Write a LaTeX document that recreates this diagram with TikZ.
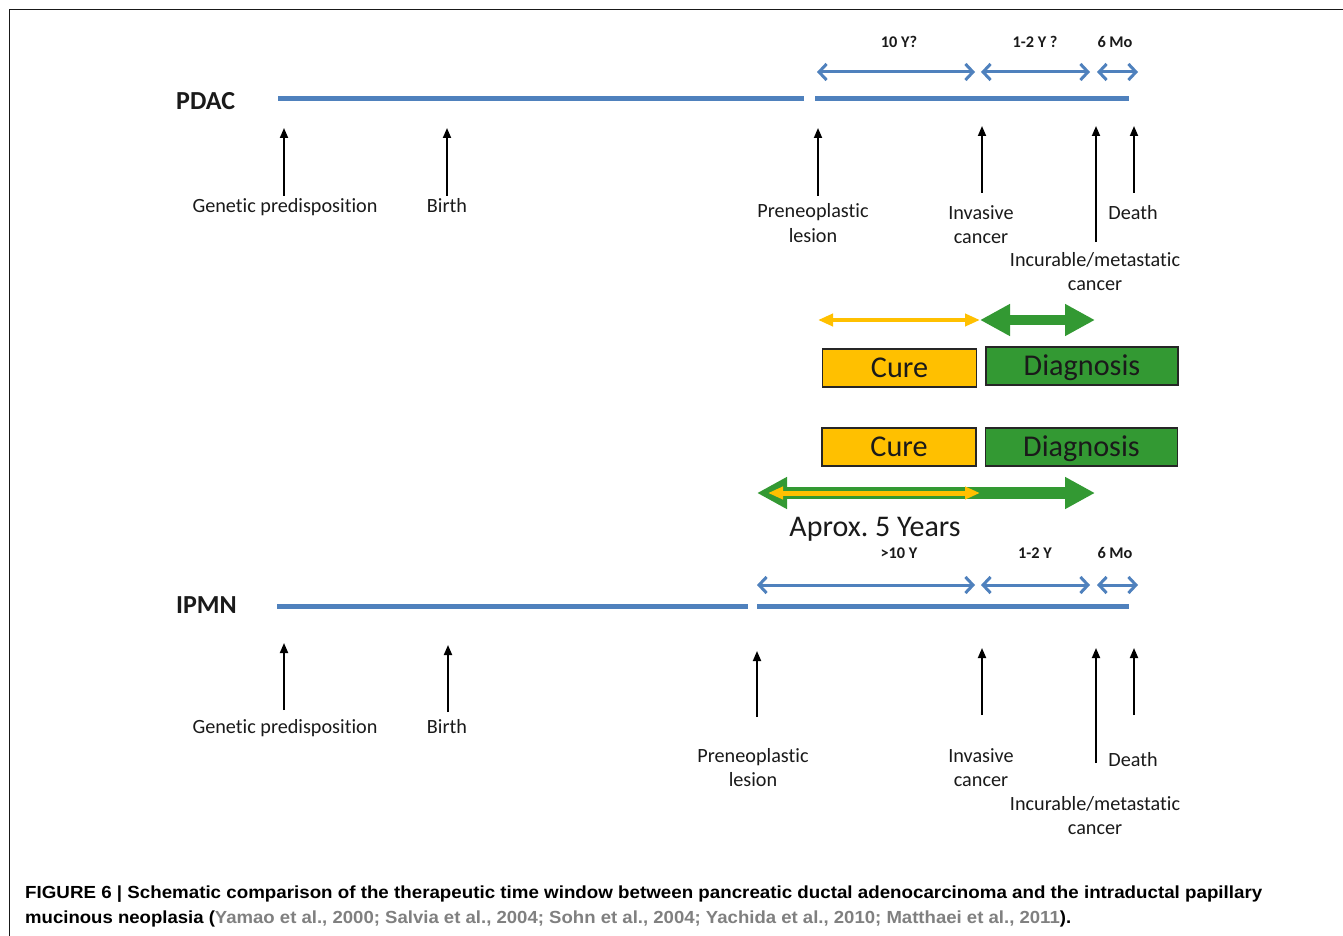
\documentclass[tikz,border=0pt]{standalone}
\usepackage{fontspec}
\usepackage{graphicx}
\setmainfont{Carlito}[Ligatures=NoCommon]
\newfontfamily\capfont{Liberation Sans}
\usetikzlibrary{arrows.meta}
\definecolor{tlblue}{HTML}{4F81BD}
\definecolor{cureyellow}{HTML}{FFC000}
\definecolor{diaggreen}{HTML}{339933}
\definecolor{citegray}{HTML}{808080}
\definecolor{ink}{HTML}{1A1A1A}
\frenchspacing
\begin{document}
\begin{tikzpicture}[x=1pt,y=-1pt,
  lbl/.style={font=\fontsize{20.2}{24}\selectfont, text=ink, anchor=base, inner sep=0pt},
  dur/.style={font=\bfseries\fontsize{16.3}{18}\selectfont, text=ink, anchor=base, inner sep=0pt},
  rowname/.style={font=\bfseries\fontsize{26}{28}\selectfont, text=ink, anchor=base west, inner sep=0pt},
  timeline/.style={draw=tlblue, line width=5pt},
  spanarrow/.style={draw=tlblue, line width=3pt, {Straight Barb[length=7.5pt,width=16pt]}-{Straight Barb[length=7.5pt,width=16pt]}},
  eventarrow/.style={draw=black, line width=1.8pt, -{Triangle[length=10pt,width=8pt]}},
  curearrow/.style={draw=cureyellow, line width=4pt, {Triangle[length=15pt,width=12pt]}-{Triangle[length=15pt,width=12pt]}},
  diagarrow/.style={draw=diaggreen, line width=10pt, {Triangle[length=30pt,width=30pt]}-{Triangle[length=30pt,width=30pt]}},
  boxbase/.style={draw=black!85, line width=1.5pt, inner sep=0pt, text height=19.5pt, text depth=0pt, font=\fontsize{30.2}{32}\selectfont, text=ink},
  curebox/.style={boxbase, fill=cureyellow, minimum width=154pt, minimum height=38pt},
  diagbox/.style={boxbase, fill=diaggreen, minimum width=192pt, minimum height=38pt},
  captext/.style={anchor=base west, inner sep=0pt, font=\capfont\bfseries\fontsize{17.5}{20}\selectfont}
]
\useasboundingbox (0,0) rectangle (1343,936);
\fill[white] (0,0) rectangle (1343,936);
% frame
\draw[line width=1pt, black!90] (9,936) -- (9,10) -- (1343,10);

% ================= PDAC =================
\node[rowname] (pdac) at (176,110) {PDAC};
\coordinate (pA1) at (278,99); \coordinate (pA2) at (804,99);
\coordinate (pB1) at (815,99); \coordinate (pB2) at (1129,99);
\draw[timeline] (pA1) -- (pA2);
\draw[timeline] (pB1) -- (pB2);

\coordinate (ps1a) at (817,72); \coordinate (ps1b) at (975,72);
\coordinate (ps2a) at (981,72); \coordinate (ps2b) at (1090,72);
\coordinate (ps3a) at (1097,72); \coordinate (ps3b) at (1138,72);
\draw[spanarrow] (ps1a) -- (ps1b);
\draw[spanarrow] (ps2a) -- (ps2b);
\draw[spanarrow] (ps3a) -- (ps3b);
\node[dur] (pd1) at (899,48) {10 Y?};
\node[dur] (pd2) at (1035,48) {1-2 Y ?};
\node[dur] (pd3) at (1115,48) {6 Mo};

\coordinate (pe1b) at (284,196); \coordinate (pe1t) at (284,128);
\coordinate (pe2b) at (447,196); \coordinate (pe2t) at (447,128);
\coordinate (pe3b) at (818,196); \coordinate (pe3t) at (818,128);
\coordinate (pe4b) at (982,193); \coordinate (pe4t) at (982,126);
\coordinate (pe5b) at (1096,242); \coordinate (pe5t) at (1096,126);
\coordinate (pe6b) at (1134,193); \coordinate (pe6t) at (1134,126);
\foreach \i in {1,...,6} {\draw[eventarrow] (pe\i b) -- (pe\i t);}

\node[lbl] (pl1) at (285,212) {Genetic predisposition};
\node[lbl] (pl2) at (447,212) {Birth};
\node[lbl] (pl3a) at (813,218) {Preneoplastic};
\node[lbl] (pl3b) at (813,242) {lesion};
\node[lbl] (pl4a) at (981,219) {Invasive};
\node[lbl] (pl4b) at (981,243) {cancer};
\node[lbl] (pl5a) at (1095,266) {Incurable/metastatic};
\node[lbl] (pl5b) at (1095,290) {cancer};
\node[lbl] (pl6) at (1133,219) {Death};

% ================= windows =================
\coordinate (cy1) at (818,320); \coordinate (cy2) at (980,320);
\coordinate (cg1) at (980,320); \coordinate (cg2) at (1095,320);
\draw[curearrow] (cy1) -- (cy2);
\draw[diagarrow] (cg1) -- (cg2);

\node[curebox] (cure1) at (899.5,368) {Cure};
\node[diagbox] (diag1) at (1082,366) {Diagnosis};
\node[curebox] (cure2) at (899,447) {Cure};
\node[diagbox] (diag2) at (1081.5,447) {Diagnosis};

\coordinate (lg1) at (757,493); \coordinate (lg2) at (1095,493);
\coordinate (ly1) at (768,493); \coordinate (ly2) at (980,493);
\draw[diagarrow, line width=12pt] (lg1) -- (lg2);
\draw[curearrow, line width=5pt] (ly1) -- (ly2);
\node[anchor=base, inner sep=0pt, font=\fontsize{30}{32}\selectfont, text=ink] (aprox) at (875,536) {Aprox. 5 Years};

% ================= IPMN =================
\node[rowname] (ipmn) at (176,613) {IPMN};
\coordinate (iA1) at (277,606); \coordinate (iA2) at (748,606);
\coordinate (iB1) at (757,606); \coordinate (iB2) at (1129,606);
\draw[timeline] (iA1) -- (iA2);
\draw[timeline] (iB1) -- (iB2);

\coordinate (is1a) at (757,585); \coordinate (is1b) at (975,585);
\coordinate (is2a) at (981,585); \coordinate (is2b) at (1090,585);
\coordinate (is3a) at (1097,585); \coordinate (is3b) at (1138,585);
\draw[spanarrow] (is1a) -- (is1b);
\draw[spanarrow] (is2a) -- (is2b);
\draw[spanarrow] (is3a) -- (is3b);
\node[dur] (id1) at (899,558) {>10 Y};
\node[dur] (id2) at (1035,558) {1-2 Y};
\node[dur] (id3) at (1115,558) {6 Mo};

\coordinate (ie1b) at (284,710); \coordinate (ie1t) at (284,643);
\coordinate (ie2b) at (448,712); \coordinate (ie2t) at (448,645);
\coordinate (ie3b) at (757,717); \coordinate (ie3t) at (757,651);
\coordinate (ie4b) at (982,715); \coordinate (ie4t) at (982,648);
\coordinate (ie5b) at (1096,763); \coordinate (ie5t) at (1096,648);
\coordinate (ie6b) at (1134,715); \coordinate (ie6t) at (1134,648);
\foreach \i in {1,...,6} {\draw[eventarrow] (ie\i b) -- (ie\i t);}

\node[lbl] (il1) at (285,733) {Genetic predisposition};
\node[lbl] (il2) at (447,733) {Birth};
\node[lbl] (il3a) at (753,762) {Preneoplastic};
\node[lbl] (il3b) at (753,786) {lesion};
\node[lbl] (il4a) at (981,762) {Invasive};
\node[lbl] (il4b) at (981,786) {cancer};
\node[lbl] (il5a) at (1095,810) {Incurable/metastatic};
\node[lbl] (il5b) at (1095,834) {cancer};
\node[lbl] (il6) at (1133,766) {Death};

% ================= caption =================
\node[captext] (cap1) at (25,898) {\resizebox{1237pt}{\height}{FIGURE 6 | Schematic comparison of the therapeutic time window between pancreatic ductal adenocarcinoma and the intraductal papillary}};
\node[captext] (cap2) at (25,923) {\resizebox{1046pt}{\height}{mucinous neoplasia (\textcolor{citegray}{Yamao et al., 2000; Salvia et al., 2004; Sohn et al., 2004; Yachida et al., 2010; Matthaei et al., 2011}).}};
\end{tikzpicture}
\end{document}
